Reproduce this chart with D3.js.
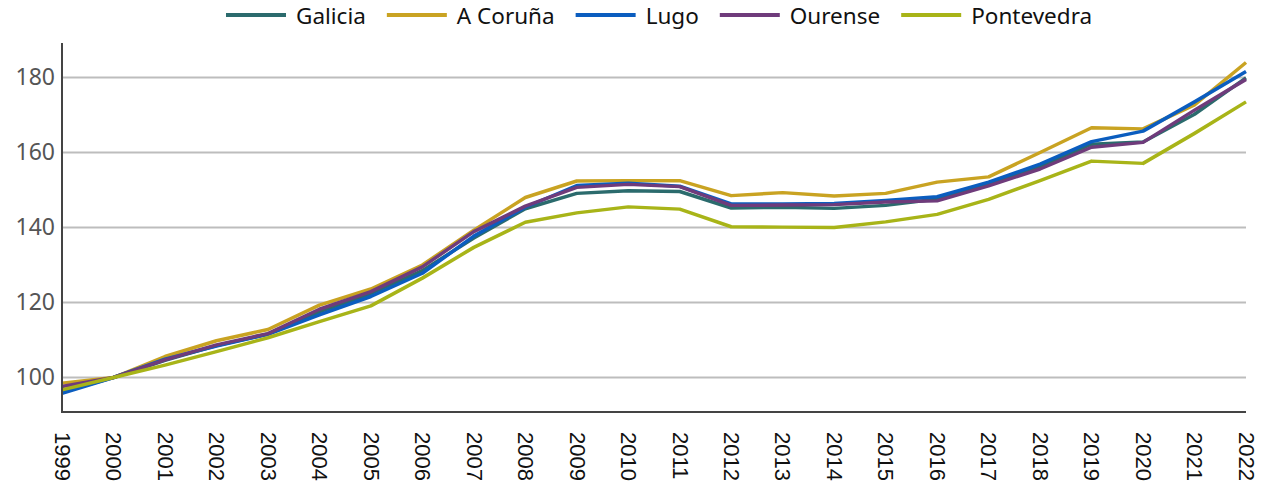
<!DOCTYPE html>
<html>
<head>
<meta charset="utf-8">
<script src="https://cdnjs.cloudflare.com/ajax/libs/d3/7.8.5/d3.min.js"></script>
<style>
body { margin: 0; background: #fff; }
.legend text { font-family: "Noto Sans", sans-serif; font-size: 22.5px; fill: #111; }
.yaxis text { font-family: "Noto Sans", sans-serif; font-size: 23px; fill: #555; }
.xaxis text { font-family: "Liberation Sans", Arial, sans-serif; font-size: 22px; fill: #111; }
</style>
</head>
<body>
<script>

var width = 1262,
	height = 484;

var years = [1999, 2000, 2001, 2002, 2003, 2004, 2005, 2006, 2007, 2008, 2009, 2010,
	2011, 2012, 2013, 2014, 2015, 2016, 2017, 2018, 2019, 2020, 2021, 2022];

var seriesNames = ["Galicia", "A Coruña", "Lugo", "Ourense", "Pontevedra"];
var seriesColors = ["#2b6b6d", "#c9a322", "#0b5dbf", "#6f3b7b", "#a8b418"];

var galicia    = [96.2, 100, 104.6, 108.5, 111.6, 117.5, 122.4, 128.5, 137.2, 145.0, 149.1, 149.8, 149.6, 145.2, 145.4, 145.1, 145.9, 147.6, 151.6, 156.3, 162.2, 162.8, 170.2, 179.9];
var aCoruna    = [98.5, 100, 105.6, 109.8, 112.8, 119.3, 123.6, 130.0, 139.3, 148.0, 152.4, 152.5, 152.5, 148.5, 149.3, 148.4, 149.1, 152.1, 153.5, 160.0, 166.6, 166.3, 172.7, 184.0];
var lugo       = [95.8, 100, 104.9, 108.4, 111.5, 116.7, 121.6, 127.8, 137.7, 145.4, 151.2, 151.8, 151.0, 146.3, 146.3, 146.4, 147.2, 148.2, 152.1, 156.9, 162.9, 165.7, 173.5, 181.6];
var ourense    = [97.6, 100, 104.7, 108.7, 111.7, 118.2, 122.9, 129.5, 138.9, 145.7, 150.7, 151.5, 150.9, 145.9, 146.0, 146.1, 146.8, 147.1, 151.1, 155.6, 161.4, 162.7, 171.3, 179.5];
var pontevedra = [96.7, 100, 103.3, 106.9, 110.6, 114.9, 119.1, 126.5, 134.7, 141.4, 143.9, 145.5, 144.9, 140.2, 140.1, 140.0, 141.5, 143.5, 147.5, 152.5, 157.7, 157.1, 165.1, 173.5];

var yTicks = [100, 120, 140, 160, 180];

var series = [galicia, aCoruna, lugo, ourense, pontevedra].map(function(v, i) {
	return { name: seriesNames[i], color: seriesColors[i], values: v };
});

var svg = d3.select("body").append("svg")
	.attr("width", width)
	.attr("height", height)
	.style("display", "block");

var x = d3.scaleLinear()
	.domain([1999, 2022])
	.range([62, 1246]);

var y = d3.scaleLinear()
	.domain([90.8, 189.2])
	.range([412, 43]);

// grid lines
svg.append("g")
	.selectAll("line")
	.data(yTicks)
	.enter().append("line")
	.attr("x1", x.range()[0])
	.attr("x2", x.range()[1])
	.attr("y1", function(d) { return y(d); })
	.attr("y2", function(d) { return y(d); })
	.attr("stroke", "#bdbdbd")
	.attr("stroke-width", 2);

// y axis
var yAxis = d3.axisLeft(y)
	.tickValues(yTicks)
	.tickSize(0)
	.tickPadding(7);

svg.append("g")
	.attr("class", "yaxis")
	.attr("transform", "translate(" + x.range()[0] + ",0)")
	.call(yAxis)
	.call(function(g) { g.select(".domain").remove(); })
	.selectAll("text")
	.attr("font-family", null)
	.attr("font-size", null);

// x axis
var xAxis = d3.axisBottom(x)
	.tickValues(years)
	.tickFormat(d3.format("d"))
	.tickSize(0);

var gx = svg.append("g")
	.attr("class", "xaxis")
	.attr("transform", "translate(0," + y.range()[0] + ")")
	.call(xAxis);
gx.select(".domain").remove();
gx.selectAll("text")
	.attr("font-family", null)
	.attr("font-size", null)
	.attr("y", 0)
	.attr("x", 0)
	.attr("dy", "0.35em")
	.attr("text-anchor", "start")
	.attr("transform", "translate(0,20) rotate(90)");

// lines
var line = d3.line()
	.x(function(d, i) { return x(years[i]); })
	.y(function(d) { return y(d); });

svg.append("g")
	.selectAll("path")
	.data(series)
	.enter().append("path")
	.attr("fill", "none")
	.attr("stroke", function(d) { return d.color; })
	.attr("stroke-width", 3.5)
	.attr("stroke-linejoin", "round")
	.attr("d", function(d) { return line(d.values); });

// axis lines
svg.append("line")
	.attr("x1", x.range()[0]).attr("x2", x.range()[0])
	.attr("y1", y.range()[1]).attr("y2", y.range()[0] + 1)
	.attr("stroke", "#444").attr("stroke-width", 2);
svg.append("line")
	.attr("x1", x.range()[0] - 1).attr("x2", x.range()[1])
	.attr("y1", y.range()[0]).attr("y2", y.range()[0])
	.attr("stroke", "#444").attr("stroke-width", 2);

// legend
var legend = svg.append("g")
	.attr("class", "legend");

var items = legend.selectAll("g")
	.data(series)
	.enter().append("g");

items.append("line")
	.attr("x1", 0).attr("x2", 60)
	.attr("y1", 15).attr("y2", 15)
	.attr("stroke", function(d) { return d.color; })
	.attr("stroke-width", 4);

items.append("text")
	.attr("x", 70)
	.attr("y", 16)
	.attr("dy", "0.35em")
	.text(function(d) { return d.name; });

var offset = 0;
items.each(function() {
	var w = this.getBBox().width;
	d3.select(this).attr("transform", "translate(" + offset + ",0)");
	offset += w + 21;
});
offset -= 21;
legend.attr("transform", "translate(" + Math.round((x.range()[0] + x.range()[1]) / 2 - offset / 2 + 5) + ",0)");

</script>
</body>
</html>
